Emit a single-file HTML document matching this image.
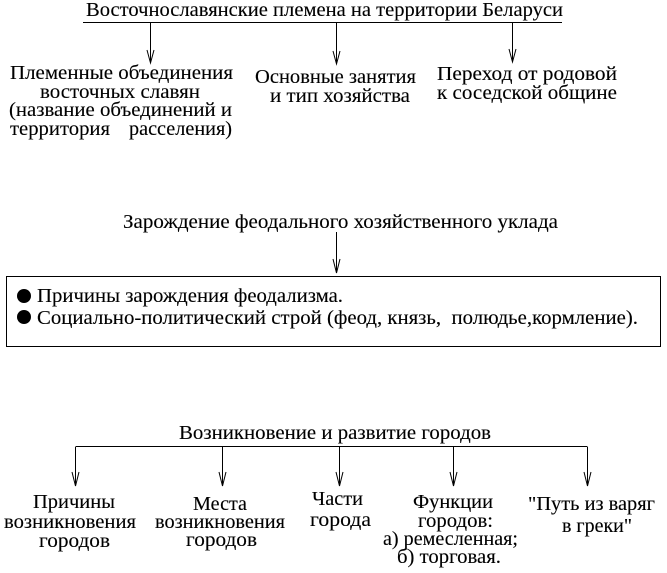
<!DOCTYPE html>
<html lang="ru">
<head>
<meta charset="utf-8">
<title>Схема</title>
<style>
html,body{margin:0;padding:0;background:#fff;width:667px;height:573px;overflow:hidden}
svg{display:block}
text{font-family:"Liberation Serif","Noto Serif CJK SC",serif;font-size:19.5px;fill:#000;stroke:#000;stroke-width:.12px;white-space:pre}
</style>
</head>
<body>
<svg width="667" height="573" viewBox="0 0 667 573" xmlns="http://www.w3.org/2000/svg">
<g stroke="#000" stroke-width="1" fill="none" shape-rendering="crispEdges">
<path d="M83 22.5H562"/>
<path d="M150.5 23V63M336.5 23V64M512.5 23V62"/>
<path d="M336.5 232V273"/>
<rect x="6.5" y="276.5" width="654" height="70"/>
<path d="M75.5 446.5H587.5"/>
<path d="M75.5 447V486M222.5 447V486M339.5 447V486M453.5 447V486M587.5 447V486"/>
</g>
<g stroke="#000" stroke-width="1" fill="none">
<path d="M147 50L150.5 63L154 50"/>
<path d="M333 51L336.5 64L340 51"/>
<path d="M509 49L512.5 62L516 49"/>
<path d="M333 259L336.5 273L340 259"/>
<path d="M72 472L75.5 486L79 472"/>
<path d="M219 472L222.5 486L226 472"/>
<path d="M336 472L339.5 486L343 472"/>
<path d="M450 472L453.5 486L457 472"/>
<path d="M584 472L587.5 486L591 472"/>
</g>
<circle cx="24" cy="296" r="7" fill="#000"/>
<circle cx="24" cy="317" r="7" fill="#000"/>

<text x="86" y="16" textLength="477" lengthAdjust="spacingAndGlyphs">Восточнославянские племена на территории Беларуси</text>
<text x="10" y="79" textLength="223" lengthAdjust="spacingAndGlyphs">Племенные объединения</text>
<text x="40" y="98" textLength="160" lengthAdjust="spacingAndGlyphs">восточных славян</text>
<text x="9" y="116" textLength="223" lengthAdjust="spacingAndGlyphs">(название объединений и</text>
<text x="10" y="135" textLength="100" lengthAdjust="spacingAndGlyphs">территория</text>
<text x="129" y="135" textLength="103" lengthAdjust="spacingAndGlyphs">расселения)</text>
<text x="255" y="83" textLength="161" lengthAdjust="spacingAndGlyphs">Основные занятия</text>
<text x="270" y="102" textLength="140" lengthAdjust="spacingAndGlyphs">и тип хозяйства</text>
<text x="437" y="80" textLength="180" lengthAdjust="spacingAndGlyphs">Переход от родовой</text>
<text x="437" y="99" textLength="180" lengthAdjust="spacingAndGlyphs">к соседской общине</text>

<text x="123" y="228" textLength="435" lengthAdjust="spacingAndGlyphs">Зарождение феодального хозяйственного уклада</text>
<text x="37" y="302" textLength="306" lengthAdjust="spacingAndGlyphs">Причины зарождения феодализма.</text>
<text x="37" y="324" textLength="601" lengthAdjust="spacingAndGlyphs">Социально-политический строй (феод, князь,  полюдье,кормление).</text>

<text x="179" y="439" textLength="312" lengthAdjust="spacingAndGlyphs">Возникновение и развитие городов</text>
<text x="33" y="508" textLength="82" lengthAdjust="spacingAndGlyphs">Причины</text>
<text x="4" y="528" textLength="132" lengthAdjust="spacingAndGlyphs">возникновения</text>
<text x="39" y="547" textLength="71" lengthAdjust="spacingAndGlyphs">городов</text>
<text x="193" y="510" textLength="54" lengthAdjust="spacingAndGlyphs">Места</text>
<text x="155" y="528" textLength="130" lengthAdjust="spacingAndGlyphs">возникновения</text>
<text x="186" y="546" textLength="71" lengthAdjust="spacingAndGlyphs">городов</text>
<text x="312" y="505" textLength="51" lengthAdjust="spacingAndGlyphs">Части</text>
<text x="310" y="526" textLength="61" lengthAdjust="spacingAndGlyphs">города</text>
<text x="413" y="508" textLength="80" lengthAdjust="spacingAndGlyphs">Функции</text>
<text x="418" y="527" textLength="75" lengthAdjust="spacingAndGlyphs">городов:</text>
<text x="383" y="545" textLength="135" lengthAdjust="spacingAndGlyphs">а) ремесленная;</text>
<text x="397" y="563" textLength="104" lengthAdjust="spacingAndGlyphs">б) торговая.</text>
<text x="528" y="510" textLength="127" lengthAdjust="spacingAndGlyphs">"Путь из варяг</text>
<text x="562" y="532" textLength="70" lengthAdjust="spacingAndGlyphs">в греки"</text>
</svg>
</body>
</html>
